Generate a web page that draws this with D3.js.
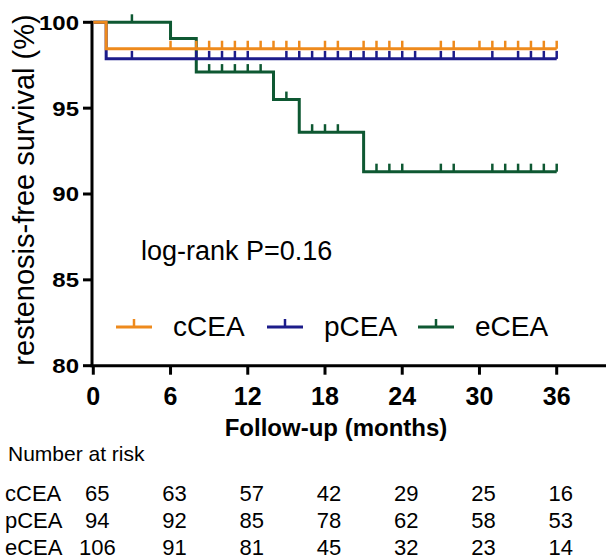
<!DOCTYPE html>
<html>
<head>
<meta charset="utf-8">
<script src="https://cdn.jsdelivr.net/npm/d3@7"></script>
<style>
  body { margin: 0; background: #fff; }
  svg { display: block; font-family: Arial, 'Liberation Sans', sans-serif; }
</style>
</head>
<body>
<svg id="chart" width="606" height="560"></svg>
<script>
// ------------------
// Data
// ------------------
const groups = ['cCEA', 'pCEA', 'eCEA']
const colors = ['#EE8A1C', '#1C1C8A', '#0E5832']

const followUpEnd = 36

const cceaEventTimes = [0, 1]
const cceaSurvival = [100, 98.46]
const cceaCensored = [6, 8, 9, 10, 11, 12, 13, 14, 15, 16, 18, 19, 21, 22, 23, 24, 27, 28, 30, 31, 32, 33, 34, 35, 36]

const pceaEventTimes = [0, 1]
const pceaSurvival = [100, 97.87]
const pceaCensored = [3, 8, 9, 10, 11, 12, 15, 16, 17, 18, 19, 20, 21, 22, 23, 24, 25, 27, 28, 31, 33, 34, 35, 36]

const eceaEventTimes = [0, 6, 8, 14, 16, 21]
const eceaSurvival = [100, 99.06, 97.1, 95.5, 93.6, 91.3]
const eceaCensored = [3, 9, 10, 11, 12, 13, 15, 17, 18, 19, 22, 23, 24, 27, 28, 31, 32, 33, 34, 35, 36]

const xTicks = [0, 6, 12, 18, 24, 30, 36]
const yTicks = [80, 85, 90, 95, 100]

const cceaAtRisk = [65, 63, 57, 42, 29, 25, 16]
const pceaAtRisk = [94, 92, 85, 78, 62, 58, 53]
const eceaAtRisk = [106, 91, 81, 45, 32, 23, 14]

const series = [
  { name: groups[0], color: colors[0], times: cceaEventTimes, surv: cceaSurvival, censored: cceaCensored, atRisk: cceaAtRisk },
  { name: groups[1], color: colors[1], times: pceaEventTimes, surv: pceaSurvival, censored: pceaCensored, atRisk: pceaAtRisk },
  { name: groups[2], color: colors[2], times: eceaEventTimes, surv: eceaSurvival, censored: eceaCensored, atRisk: eceaAtRisk }
]

const svg = d3.select('#chart')
const width = 606
const height = 560

svg.append('rect').attr('width', width).attr('height', height).attr('fill', '#fff')

const margin = { top: 22.3, left: 92, bottom: 365.7 }

const x = d3.scaleLinear().domain([0, followUpEnd]).range([93.3, 556.7])
const y = d3.scaleLinear().domain([80, 100]).range([margin.bottom, margin.top])

// ------------------
// Axes (drawn from the scales, GraphPad style)
// ------------------
const axes = svg.append('g').attr('stroke', '#000').attr('stroke-width', 3)

axes.append('line')
  .attr('x1', margin.left).attr('x2', margin.left)
  .attr('y1', margin.bottom).attr('y2', margin.top - 1.5)

axes.append('line')
  .attr('x1', margin.left - 1.5).attr('x2', width)
  .attr('y1', margin.bottom).attr('y2', margin.bottom)

axes.selectAll('.ytick')
  .data(yTicks)
  .enter()
  .append('line')
  .attr('class', 'ytick')
  .attr('x1', margin.left - 9).attr('x2', margin.left)
  .attr('y1', d => y(d)).attr('y2', d => y(d))

axes.selectAll('.xtick')
  .data(xTicks)
  .enter()
  .append('line')
  .attr('class', 'xtick')
  .attr('x1', d => x(d)).attr('x2', d => x(d))
  .attr('y1', margin.bottom).attr('y2', margin.bottom + 9)

svg.selectAll('.ylabel')
  .data(yTicks)
  .enter()
  .append('text')
  .attr('class', 'ylabel')
  .attr('transform', d => `translate(${margin.left - 13},${y(d)}) scale(1,0.85)`)
  .attr('dy', '0.36em')
  .attr('text-anchor', 'end')
  .attr('font-size', 24)
  .attr('font-weight', 'bold')
  .text(d => d)

svg.selectAll('.xlabel')
  .data(xTicks)
  .enter()
  .append('text')
  .attr('class', 'xlabel')
  .attr('x', d => x(d))
  .attr('y', margin.bottom + 39)
  .attr('text-anchor', 'middle')
  .attr('font-size', 25)
  .attr('font-weight', 'bold')
  .text(d => d)

// axis titles
svg.append('text')
  .attr('transform', 'translate(34,190) rotate(-90)')
  .attr('text-anchor', 'middle')
  .attr('font-size', 29)
  .text('restenosis-free survival (%)')

svg.append('text')
  .attr('x', 336).attr('y', 436)
  .attr('text-anchor', 'middle')
  .attr('font-size', 24)
  .attr('font-weight', 'bold')
  .text('Follow-up (months)')

// ------------------
// Survival curves (drawn so cCEA ends on top)
// ------------------
const line = d3.line()
  .x(d => x(d[0]))
  .y(d => y(d[1]))
  .curve(d3.curveStepAfter)

function survAt(s, t) {
  let v = s.surv[0]
  s.times.forEach((et, i) => { if (et <= t) v = s.surv[i] })
  return v
}

const tickLen = 8

series.slice().reverse().forEach(s => {
  const pts = s.times.map((t, i) => [t, s.surv[i]])
  pts.push([followUpEnd, s.surv[s.surv.length - 1]])

  svg.append('path')
    .datum(pts)
    .attr('fill', 'none')
    .attr('stroke', s.color)
    .attr('stroke-width', 3)
    .attr('d', line)

  // censor marks
  svg.selectAll(null)
    .data(s.censored)
    .enter()
    .append('line')
    .attr('x1', d => x(d)).attr('x2', d => x(d))
    .attr('y1', d => y(survAt(s, d)))
    .attr('y2', d => y(survAt(s, d)) - tickLen)
    .attr('stroke', s.color)
    .attr('stroke-width', 2.5)
})

// ------------------
// Annotation + legend
// ------------------
svg.append('text')
  .attr('x', 141).attr('y', 260)
  .attr('font-size', 27)
  .text('log-rank P=0.16')

const legend = svg.append('g')
series.forEach((s, i) => {
  const x0 = 116 + i * 151
  const g = legend.append('g').attr('transform', `translate(${x0},327)`)
  g.append('line').attr('x1', 0).attr('x2', 36).attr('stroke', s.color).attr('stroke-width', 3)
  g.append('line').attr('x1', 18).attr('x2', 18).attr('y1', 0).attr('y2', -tickLen)
    .attr('stroke', s.color).attr('stroke-width', 2.5)
  g.append('text').attr('x', 57).attr('y', 9).attr('font-size', 28).text(s.name)
})

// ------------------
// Number at risk table
// ------------------
svg.append('text')
  .attr('x', 8).attr('y', 461)
  .attr('font-size', 21)
  .text('Number at risk')

series.forEach((s, i) => {
  const rowY = 501 + i * 27
  svg.append('text').attr('x', 5).attr('y', rowY).attr('font-size', 22).text(s.name)
  svg.selectAll(null)
    .data(s.atRisk)
    .enter()
    .append('text')
    .attr('x', (d, j) => x(xTicks[j]) + 4)
    .attr('y', rowY)
    .attr('text-anchor', 'middle')
    .attr('font-size', 22)
    .text(d => d)
})
</script>
</body>
</html>
